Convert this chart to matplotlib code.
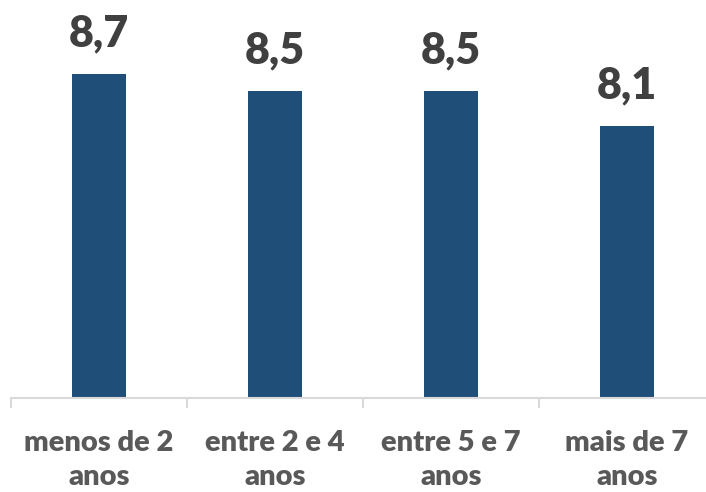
import matplotlib
matplotlib.use("Agg")
import matplotlib.pyplot as plt

categories = ["menos de 2\nanos", "entre 2 e 4\nanos", "entre 5 e 7\nanos", "mais de 7\nanos"]
values = [8.7, 8.5, 8.5, 8.1]
value_labels = ["8,7", "8,5", "8,5", "8,1"]

plt.rcParams['font.family'] = ['Lato', 'DejaVu Sans']

W, H = 706, 492
fig = plt.figure(figsize=(W / 100, H / 100), dpi=100)
ax = fig.add_axes([11 / W, 94 / H, 704 / W, 394.2 / H])

x = list(range(len(categories)))
ax.bar(x, [v - 5 for v in values], bottom=5, width=0.31, color="#1F4E79", zorder=2)

ax.set_xlim(-0.5, 3.5)
ax.set_ylim(5, 9.5)

for xi, v, lab in zip(x, values, value_labels):
    ax.annotate(lab, (xi, v), xytext=(0, 20), textcoords="offset points",
                ha="center", va="baseline", fontsize=31, fontweight="heavy",
                color="#404040", annotation_clip=False)

for s in ["top", "right", "left"]:
    ax.spines[s].set_visible(False)
ax.spines["bottom"].set_color("#D9D9D9")
ax.spines["bottom"].set_linewidth(1.5)
ax.set_yticks([])

ax.set_xticks(x)
ax.set_xticklabels(categories, fontsize=21, fontweight="heavy", color="#595959", linespacing=1.38)
ax.tick_params(axis="x", which="major", length=0, pad=23)
ax.set_xticks([-0.5, 0.5, 1.5, 2.5, 3.5], minor=True)
ax.tick_params(axis="x", which="minor", length=7.5, width=1.5, color="#D9D9D9")

fig.savefig("out.png", dpi=100)
